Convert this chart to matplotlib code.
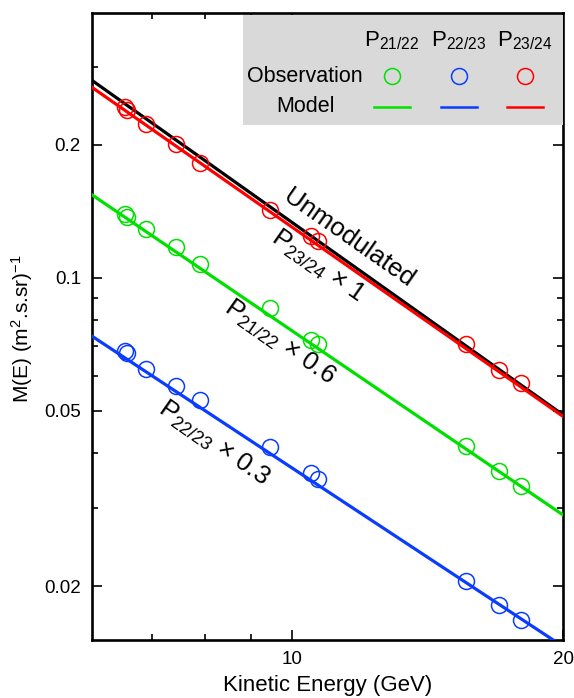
import matplotlib
matplotlib.use("Agg")
import matplotlib.pyplot as plt
from matplotlib.patches import Rectangle
from matplotlib.lines import Line2D
from matplotlib.ticker import FixedLocator, NullFormatter, FixedFormatter

plt.rcParams['font.family'] = ['Liberation Sans', 'DejaVu Sans']
plt.rcParams['mathtext.fontset'] = 'custom'
plt.rcParams['mathtext.rm'] = 'Liberation Sans'
plt.rcParams['mathtext.it'] = 'Liberation Sans:italic'
plt.rcParams['mathtext.bf'] = 'Liberation Sans:bold'

# ---- data ----
energy = [6.52, 6.56, 6.89, 7.44, 7.91, 9.46, 10.50, 10.68, 15.61, 17.0, 17.97]
obs_21_22 = [0.1394, 0.1376, 0.1291, 0.1171, 0.1074, 0.0854, 0.0724, 0.0709, 0.0415, 0.0365, 0.0337]
obs_22_23 = [0.0681, 0.0676, 0.0622, 0.0568, 0.0528, 0.0414, 0.0361, 0.0349, 0.02056, 0.0181, 0.01675]
obs_23_24 = [0.2433, 0.2400, 0.2231, 0.2010, 0.1820, 0.1425, 0.1245, 0.1208, 0.0708, 0.0619, 0.0576]

model_energy = [6.0, 20.0]
model_21_22 = [0.1541, 0.0290]
model_22_23 = [0.0737, 0.0146]
model_23_24 = [0.270, 0.0485]
unmodulated = [0.280, 0.0489]

x_ticks = [10, 20]
x_ticklabels = ['10', '20']
y_ticks = [0.02, 0.05, 0.1, 0.2]
y_ticklabels = ['0.02', '0.05', '0.1', '0.2']

GREEN = '#00e000'
BLUE = '#0a3cff'
RED = '#ff0000'

fig = plt.figure(figsize=(5.74, 6.98), dpi=100)
ax = fig.add_axes([92/574, 1-640/698, (563-92)/574, (640-13)/698])
ax.set_xscale('log')
ax.set_yscale('log')
ax.set_xlim(6, 20)
ax.set_ylim(0.0151, 0.398)

lw = 2.3
ax.plot(model_energy, unmodulated, color='black', lw=lw, zorder=3)
ax.plot(model_energy, model_23_24, color=RED, lw=lw, zorder=4)
ax.plot(model_energy, model_21_22, color=GREEN, lw=lw, zorder=4)
ax.plot(model_energy, model_22_23, color=BLUE, lw=lw, zorder=4)

ms = 11.5
mew = 1.1
for vals, c in [(obs_23_24, RED), (obs_21_22, GREEN), (obs_22_23, BLUE)]:
    ax.plot(energy, vals, linestyle='none', marker='o', ms=ms, mfc='none',
            mec=c, mew=mew, zorder=5, clip_on=False)

# ticks
minor_x = [7, 8, 9]
minor_y = [0.03, 0.04, 0.06, 0.07, 0.08, 0.09, 0.3]
ax.xaxis.set_major_locator(FixedLocator(x_ticks))
ax.xaxis.set_major_formatter(FixedFormatter(x_ticklabels))
ax.xaxis.set_minor_locator(FixedLocator(minor_x))
ax.xaxis.set_minor_formatter(NullFormatter())
ax.yaxis.set_major_locator(FixedLocator(y_ticks))
ax.yaxis.set_major_formatter(FixedFormatter(y_ticklabels))
ax.yaxis.set_minor_locator(FixedLocator(minor_y))
ax.yaxis.set_minor_formatter(NullFormatter())
ax.tick_params(which='both', direction='in', top=True, right=True, width=1.2,
               labelsize=13.5, colors='black')
ax.tick_params(which='major', length=7, pad=8)
ax.tick_params(which='minor', length=4)
for s in ax.spines.values():
    s.set_linewidth(1.9)

ax.set_xlabel('Kinetic Energy (GeV)', fontsize=16, labelpad=5)
ax.set_ylabel(r'M(E) (m$^2$.s.sr)$^{-1}$', fontsize=15)
ax.yaxis.set_label_coords(-0.122, 0.497)

# legend box (drawn manually)
def fx(px):
    return (px - 92) / 471
def fy(py):
    return (640 - py) / 627

ax.add_patch(Rectangle((fx(243), fy(125)), fx(563) - fx(243), fy(15) - fy(125),
                       transform=ax.transAxes, facecolor='#d9d9d9', edgecolor='none',
                       zorder=6))
hdrs = [r'P$_{21/22}$', r'P$_{22/23}$', r'P$_{23/24}$']
cols_px = [392, 459, 525]
colors = [GREEN, BLUE, RED]
for h, cx, c in zip(hdrs, cols_px, colors):
    ax.text(fx(cx), fy(41), h, transform=ax.transAxes, ha='center', va='center',
            fontsize=16, zorder=7)
    ax.add_line(Line2D([fx(cx)], [fy(76)], marker='o', ms=11.5, mfc='none', mec=c,
                       mew=1.1, transform=ax.transAxes, zorder=7, linestyle='none'))
    ax.add_line(Line2D([fx(cx - 18), fx(cx + 18)], [fy(107), fy(107)], color=c,
                       lw=1.8, transform=ax.transAxes, zorder=7))
ax.text(fx(305), fy(77), 'Observation', transform=ax.transAxes, ha='center',
        va='center', fontsize=15.5, zorder=7)
ax.text(fx(305), fy(107), 'Model', transform=ax.transAxes, ha='center',
        va='center', fontsize=15.5, zorder=7)

# annotations
rot = -35
fs_ann = 18.5
ax.text(fx(349), fy(238), 'Unmodulated', transform=ax.transAxes, rotation=rot,
        rotation_mode='anchor', ha='center', va='center', fontsize=fs_ann, zorder=8)
ax.text(fx(318), fy(266), r'P$_{23/24}$ × 1', transform=ax.transAxes, rotation=rot,
        rotation_mode='anchor', ha='center', va='center', fontsize=fs_ann, zorder=8)
ax.text(fx(279), fy(342), r'P$_{21/22}$ × 0.6', transform=ax.transAxes, rotation=rot,
        rotation_mode='anchor', ha='center', va='center', fontsize=fs_ann, zorder=8)
ax.text(fx(213), fy(443), r'P$_{22/23}$ × 0.3', transform=ax.transAxes, rotation=rot,
        rotation_mode='anchor', ha='center', va='center', fontsize=fs_ann, zorder=8)

fig.savefig('out.png', dpi=100)
